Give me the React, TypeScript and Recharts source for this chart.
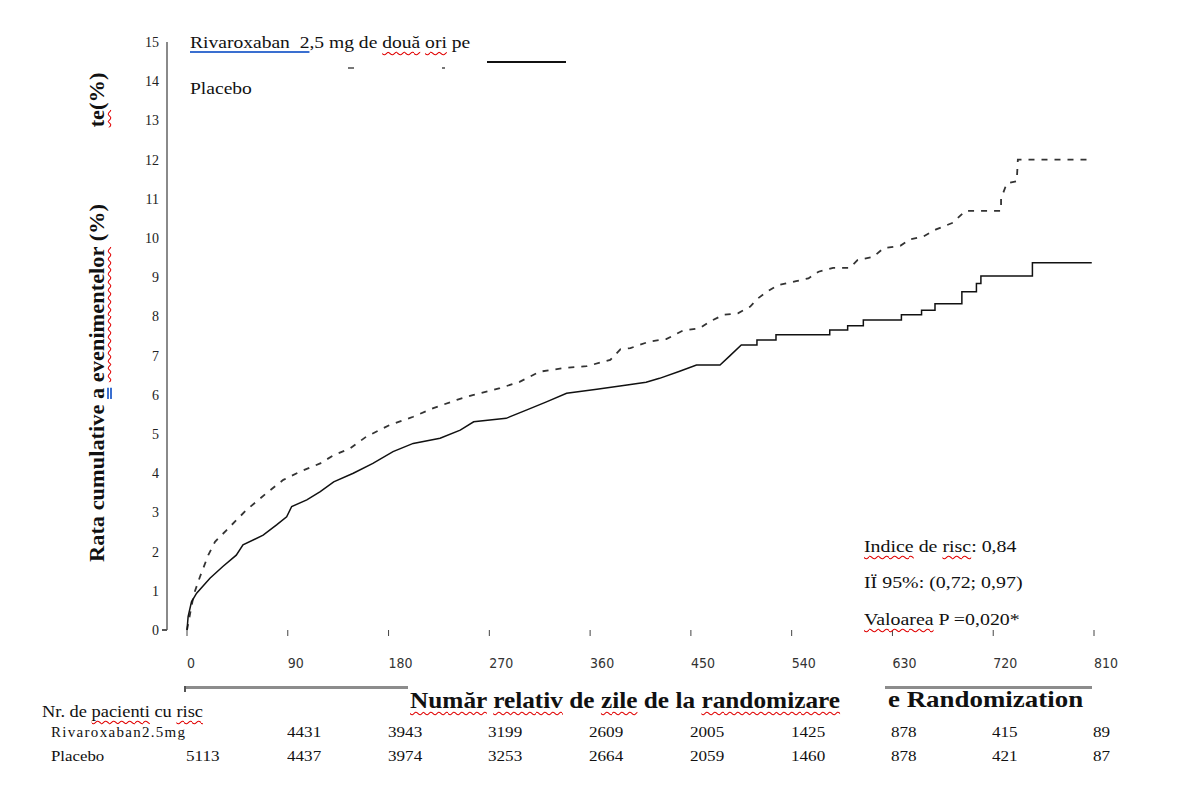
import React from 'react';
import { LineChart, Line, XAxis, YAxis } from 'recharts';

// ─── Data ──────────────────────────────────────────────────────────────────────
const dayTicks = [0, 90, 180, 270, 360, 450, 540, 630, 720, 810];
const rateTicks = [0, 1, 2, 3, 4, 5, 6, 7, 8, 9, 10, 11, 12, 13, 14, 15];

// Rivaroxaban 2.5 mg (solid)
const rivaDays = [
  0, 1, 4, 8.6, 20.5, 32, 44, 50, 68, 80, 89, 93.5, 107, 119, 131, 148.5, 166, 184, 202, 226, 244, 256, 285,
  303, 321, 339, 366, 393, 410, 422, 440, 455, 476, 485, 495, 509, 509, 526, 526, 574, 574, 590, 590, 604, 604,
  638, 638, 656, 656, 668, 668, 692, 692, 705, 705, 709, 709, 755, 755, 808,
];
const rivaRate = [
  0, 0.34, 0.72, 0.94, 1.32, 1.62, 1.91, 2.17, 2.42, 2.68, 2.89, 3.15, 3.32, 3.53, 3.78, 4.0, 4.25, 4.55, 4.76,
  4.89, 5.1, 5.31, 5.4, 5.61, 5.82, 6.04, 6.14, 6.25, 6.32, 6.42, 6.6, 6.76, 6.76, 7.0, 7.27, 7.27, 7.4, 7.4,
  7.53, 7.53, 7.65, 7.65, 7.76, 7.76, 7.91, 7.91, 8.04, 8.04, 8.16, 8.16, 8.32, 8.32, 8.63, 8.63, 8.84, 8.84,
  9.03, 9.03, 9.37, 9.37,
];

// Placebo (dashed)
const placeboDays = [
  0, 3, 6, 11.6, 19, 25, 35.4, 53, 71, 86, 101, 119, 131, 145.5, 160, 181, 202, 220, 241, 256, 279.5, 297, 315,
  336, 357, 378, 387, 396, 413, 428, 443, 458, 467, 479, 492, 503, 509, 518, 528, 544, 555, 564, 577, 592, 599,
  613, 622, 637, 646, 657, 669, 684, 695, 727, 727, 732, 741, 742, 809,
];
const placeboRate = [
  0, 0.45, 0.9, 1.36, 1.91, 2.25, 2.55, 3.06, 3.49, 3.83, 4.04, 4.25, 4.46, 4.63, 4.93, 5.23, 5.44, 5.66, 5.87,
  6.0, 6.17, 6.33, 6.59, 6.68, 6.73, 6.89, 7.16, 7.19, 7.36, 7.42, 7.64, 7.7, 7.87, 8.04, 8.08, 8.25, 8.44,
  8.63, 8.8, 8.9, 8.97, 9.14, 9.24, 9.24, 9.44, 9.52, 9.74, 9.8, 9.97, 10.03, 10.22, 10.39, 10.69, 10.69, 11.0,
  11.39, 11.45, 12.0, 12.0,
];

// Număr de pacienți cu risc
const rivaAtRisk = ['', '4431', '3943', '3199', '2609', '2005', '1425', '878', '415', '89'];
const placeboAtRisk = ['5113', '4437', '3974', '3253', '2664', '2059', '1460', '878', '421', '87'];

const rivaData = rivaDays.map((day, i) => ({ day, rate: rivaRate[i] }));
const placeboData = placeboDays.map((day, i) => ({ day, rate: placeboRate[i] }));

// ─── Layout ────────────────────────────────────────────────────────────────────
const SERIF = '"Liberation Serif", "Times New Roman", serif';
const X0 = 187;
const X1 = 1094;
const xPos = (d: number) => X0 + (d / 810) * (X1 - X0);

const wavy: React.CSSProperties = {
  textDecoration: 'underline wavy #e00000',
  textDecorationThickness: '1px',
  textUnderlineOffset: '3px',
  textDecorationSkipInk: 'none',
};

// the source text is a little wider than Liberation Serif, hence the scaleX
const abs = (left: number, top: number, size: number, sx = 1, extra: React.CSSProperties = {}): React.CSSProperties => ({
  position: 'absolute',
  left,
  top,
  fontSize: size,
  whiteSpace: 'pre',
  lineHeight: 1,
  fontFamily: SERIF,
  color: '#111',
  transform: `scaleX(${sx})`,
  transformOrigin: 'left top',
  ...extra,
});

const rotated = (cx: number, cy: number, sx: number): React.CSSProperties => ({
  position: 'absolute',
  left: cx,
  top: cy,
  fontSize: 20,
  fontWeight: 'bold',
  whiteSpace: 'pre',
  lineHeight: 1,
  fontFamily: SERIF,
  color: '#111',
  transform: `translate(-50%, -50%) rotate(-90deg) scaleX(${sx})`,
});

function DayTick(props: any) {
  const { x, y, payload } = props;
  return (
    <text x={x} y={y + 30} textAnchor="start" fontSize={14} fill="#333" fontFamily='"DejaVu Sans Condensed", "DejaVu Sans", sans-serif'>
      {payload.value}
    </text>
  );
}

export default function App() {
  return (
    <div style={{ position: 'absolute', left: 0, top: 0, width: 1203, height: 796, background: '#fff', fontFamily: SERIF }}>
      <div style={{ position: 'absolute', left: 0, top: 0 }}>
        <LineChart width={1203} height={796} margin={{ top: 42, right: 109, bottom: 136, left: 107 }}>
          <XAxis
            type="number"
            dataKey="day"
            domain={[0, 810]}
            ticks={dayTicks}
            padding={{ left: 20, right: 0 }}
            height={30}
            axisLine={false}
            tickLine={{ stroke: '#444', strokeWidth: 1 }}
            tickSize={6}
            tick={<DayTick />}
            interval={0}
          />
          <YAxis
            type="number"
            domain={[0, 15]}
            ticks={rateTicks}
            width={60}
            interval={0}
            axisLine={{ stroke: '#8a8a8a', strokeWidth: 2 }}
            tickLine={false}
            tick={{ fontSize: 14, fill: '#222', fontFamily: SERIF }}
          />
          <Line data={placeboData} dataKey="rate" type="linear" stroke="#333" strokeWidth={1.8} strokeDasharray="6 7" dot={false} isAnimationActive={false} />
          <Line data={rivaData} dataKey="rate" type="linear" stroke="#111" strokeWidth={1.5} dot={false} isAnimationActive={false} />
        </LineChart>
      </div>
      <div style={{ position: 'absolute', left: 162, top: 629, width: 5, height: 1.5, background: '#555' }} />

      {/* legend */}
      <div style={abs(190, 34, 17, 1.15)}>
        <span style={{ textDecoration: 'underline solid #3a6fd0', textDecorationThickness: '2px', textUnderlineOffset: '3px' }}>Rivaroxaban  2</span>
        ,5 mg de <span style={wavy}>două</span> <span style={wavy}>ori</span> pe
      </div>
      <div style={{ position: 'absolute', left: 487, top: 61, width: 79, height: 2, background: '#111' }} />
      <div style={{ position: 'absolute', left: 348, top: 67, width: 6, height: 2, background: '#777' }} />
      <div style={{ position: 'absolute', left: 442, top: 67, width: 3, height: 2, background: '#777' }} />
      <div style={abs(190, 80, 17, 1.15)}>Placebo</div>

      {/* y axis title */}
      <div style={rotated(97, 383, 1.12)}>
        Rata cumulative{' '}
        <span style={{ textDecoration: 'underline double #3a6fd0', textUnderlineOffset: '3px' }}>a</span>{' '}
        <span style={wavy}>evenimentelor</span> (%)
      </div>
      <div style={rotated(97, 100, 1.12)}>
        <span style={wavy}>te</span>(%)
      </div>

      {/* statistics */}
      <div style={abs(864, 538, 17, 1.17)}>
        <span style={wavy}>Indice</span> de <span style={wavy}>risc</span>: 0,84
      </div>
      <div style={abs(864, 574, 17, 1.17)}>IÏ 95%: (0,72; 0,97)</div>
      <div style={abs(864, 611, 17, 1.17)}>
        <span style={wavy}>Valoarea</span> P =0,020*
      </div>

      {/* x axis title */}
      <div style={{ position: 'absolute', left: 185, top: 686, width: 223, height: 3, background: '#8c8c8c' }} />
      <div style={{ position: 'absolute', left: 184, top: 686, width: 2, height: 6, background: '#555' }} />
      <div style={{ position: 'absolute', left: 885, top: 686, width: 207, height: 3, background: '#8c8c8c' }} />
      <div style={abs(410, 689, 23, 1.1, { fontWeight: 'bold' })}>
        <span style={wavy}>Număr</span> <span style={wavy}>relativ</span> de <span style={wavy}>zile</span> de la{' '}
        <span style={wavy}>randomizare</span>
      </div>
      <div style={abs(888, 688, 23, 1.17, { fontWeight: 'bold' })}>e Randomization</div>

      {/* at-risk table */}
      <div style={abs(42, 704, 16, 1.15)}>
        Nr. de <span style={wavy}>pacienti</span> cu <span style={wavy}>risc</span>
      </div>
      <div style={abs(51, 725, 15, 1, { letterSpacing: '1.3px' })}>Rivaroxaban2.5mg</div>
      <div style={abs(51, 749, 15, 1.12)}>Placebo</div>
      {dayTicks.map((d, i) => (
        <React.Fragment key={d}>
          <div style={abs(xPos(d) - 1, 725, 15, 1.14)}>{rivaAtRisk[i]}</div>
          <div style={abs(xPos(d) - 1, 749, 15, 1.14)}>{placeboAtRisk[i]}</div>
        </React.Fragment>
      ))}
    </div>
  );
}
